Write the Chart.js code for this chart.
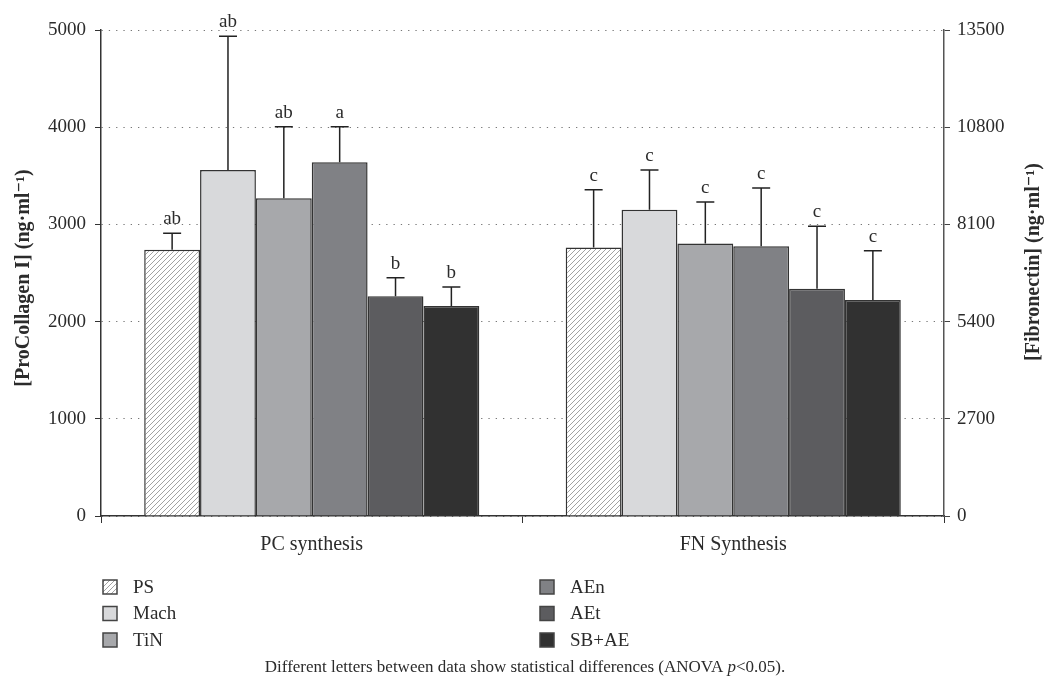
<!DOCTYPE html>
<html>
<head>
<meta charset="utf-8">
<script src="https://cdn.jsdelivr.net/npm/chart.js@4"></script>
<style>
  html, body { margin: 0; padding: 0; background: #fff; }
  #wrap { width: 1049px; height: 688px; position: relative; }
</style>
</head>
<body>
<div id="wrap"><canvas id="barChart" width="1049" height="688"></canvas></div>
<script>
// 数据
const groups = ['PC synthesis', 'FN Synthesis'];
const series = ['PS', 'Mach', 'TiN', 'AEn', 'AEt', 'SB+AE'];
const pcMean = [2740, 3560, 3270, 3640, 2260, 2160];
const pcErr = [170, 1375, 735, 365, 190, 195];
const pcLetters = ['ab', 'ab', 'ab', 'a', 'b', 'b'];
const fnMean = [7460, 8510, 7570, 7490, 6310, 6000];
const fnErr = [1600, 1100, 1155, 1620, 1740, 1370];
const fnLetters = ['c', 'c', 'c', 'c', 'c', 'c'];
const leftTicks = [0, 1000, 2000, 3000, 4000, 5000];
const rightTicks = [0, 2700, 5400, 8100, 10800, 13500];

const FONT = '"Liberation Serif", "DejaVu Serif", serif';
const INK = '#2b2b2b';

// 斜线填充 (PS)
function hatchPattern() {
    const c = document.createElement('canvas');
    c.width = 5; c.height = 5;
    const g = c.getContext('2d');
    g.fillStyle = '#fff';
    g.fillRect(0, 0, 5, 5);
    g.strokeStyle = '#8a8a8a';
    g.lineWidth = 0.8;
    g.beginPath();
    g.moveTo(-1, 6); g.lineTo(6, -1);
    g.moveTo(-1, 1); g.lineTo(1, -1);
    g.moveTo(4, 6); g.lineTo(6, 4);
    g.stroke();
    return g.createPattern(c, 'repeat');
}

const ctx = document.getElementById('barChart').getContext('2d');
const hatch = hatchPattern();
const fills = [hatch, '#d8d9db', '#a7a8ab', '#808185', '#5c5c5f', '#313131'];

// 两组分别用左右两个y轴
const datasets = [];
series.forEach((name, i) => {
    datasets.push({
        label: name, yAxisID: 'y', data: [pcMean[i], null],
        err: [pcErr[i], null], letters: [pcLetters[i], null],
        backgroundColor: fills[i], borderColor: '#333', borderWidth: 1.5,
        borderSkipped: 'bottom', skipNull: true,
        categoryPercentage: 0.795, barPercentage: 1.0
    });
});
series.forEach((name, i) => {
    datasets.push({
        label: name, yAxisID: 'y2', data: [null, fnMean[i]],
        err: [null, fnErr[i]], letters: [null, fnLetters[i]],
        backgroundColor: fills[i], borderColor: '#333', borderWidth: 1.5,
        borderSkipped: 'bottom', skipNull: true,
        categoryPercentage: 0.795, barPercentage: 1.0
    });
});

// 误差线和字母
const errorBars = {
    id: 'errorBars',
    afterDatasetsDraw(chart) {
        const c = chart.ctx;
        c.save();
        chart.data.datasets.forEach((ds, di) => {
            const meta = chart.getDatasetMeta(di);
            const scale = chart.scales[ds.yAxisID];
            meta.data.forEach((bar, j) => {
                if (ds.data[j] == null) return;
                const top = scale.getPixelForValue(ds.data[j] + ds.err[j]);
                c.strokeStyle = '#222';
                c.lineWidth = 1.5;
                c.beginPath();
                c.moveTo(bar.x, bar.y);
                c.lineTo(bar.x, top);
                c.moveTo(bar.x - 9, top);
                c.lineTo(bar.x + 9, top);
                c.stroke();
                c.fillStyle = INK;
                c.font = '19px ' + FONT;
                c.textAlign = 'center';
                c.textBaseline = 'alphabetic';
                c.fillText(ds.letters[j], bar.x, top - 9);
            });
        });
        c.restore();
    },
    afterDraw(chart) {
        const c = chart.ctx;
        c.save();
        c.fillStyle = INK;
        c.font = 'bold 20px ' + FONT;
        c.textAlign = 'center';
        c.textBaseline = 'middle';
        c.translate(24, 278);
        c.rotate(-Math.PI / 2);
        c.fillText('[ProCollagen I] (ng·ml⁻¹)', 0, 0);
        c.restore();
        c.save();
        c.fillStyle = INK;
        c.font = 'bold 20px ' + FONT;
        c.textAlign = 'center';
        c.textBaseline = 'middle';
        c.translate(1034, 262);
        c.rotate(-Math.PI / 2);
        c.fillText('[Fibronectin] (ng·ml⁻¹)', 0, 0);
        c.restore();

        // 图例 (两列)
        c.save();
        c.font = '19px ' + FONT;
        c.textBaseline = 'middle';
        series.forEach((name, i) => {
            const col = Math.floor(i / 3), row = i % 3;
            const x = col === 0 ? 103 : 540;
            const y = 587 + row * 26.5;
            c.fillStyle = fills[i];
            c.fillRect(x, y - 7, 14, 14);
            c.strokeStyle = '#444';
            c.lineWidth = 1.5;
            c.strokeRect(x, y - 7, 14, 14);
            c.fillStyle = INK;
            c.fillText(name, x + 30, y + 1);
        });
        c.restore();

        // 说明文字
        c.save();
        c.fillStyle = INK;
        c.textBaseline = 'middle';
        const fs = '17px ' + FONT;
        const a = 'Different letters between data show statistical differences (ANOVA ';
        const b = 'p';
        const d = '<0.05).';
        c.font = fs;
        const wa = c.measureText(a).width;
        c.font = 'italic ' + fs;
        const wb = c.measureText(b).width;
        c.font = fs;
        const wd = c.measureText(d).width;
        let x0 = 525 - (wa + wb + wd) / 2;
        c.fillText(a, x0, 668);
        c.font = 'italic ' + fs;
        c.fillText(b, x0 + wa, 668);
        c.font = fs;
        c.fillText(d, x0 + wa + wb, 668);
        c.restore();
    }
};

const barChart = new Chart(ctx, {
    type: 'bar',
    data: { labels: groups, datasets: datasets },
    options: {
        responsive: false,
        animation: false,
        layout: { padding: { top: 30, bottom: 127, left: 0, right: 0 } },
        plugins: { legend: { display: false }, tooltip: { enabled: false } },
        scales: {
            x: {
                grid: { display: true, drawOnChartArea: false, drawTicks: true, tickLength: 7, tickColor: '#333', offset: true },
                border: { color: '#333', width: 1.5 },
                ticks: { color: INK, font: { family: FONT, size: 20 }, padding: 10 },
                afterFit(s) { s.height = 45; }
            },
            y: {
                position: 'left',
                min: 0, max: 5000,
                afterBuildTicks(s) { s.ticks = leftTicks.map(v => ({ value: v })); },
                grid: { color: '#777', lineWidth: 1, drawTicks: true, tickLength: 6, tickColor: '#333', tickBorderDash: [] },
                border: { color: '#333', width: 1.5, dash: [1.3, 6] },
                ticks: { color: INK, font: { family: FONT, size: 19 }, padding: 9, callback: v => String(v) },
                afterFit(s) { s.width = 101; }
            },
            y2: {
                position: 'right',
                min: 0, max: 13500,
                afterBuildTicks(s) { s.ticks = rightTicks.map(v => ({ value: v })); },
                grid: { drawOnChartArea: false, drawTicks: true, tickLength: 6, tickColor: '#444' },
                border: { color: '#555', width: 1.5 },
                ticks: { color: INK, font: { family: FONT, size: 19 }, padding: 7, callback: v => String(v) },
                afterFit(s) { s.width = 105; }
            }
        }
    },
    plugins: [errorBars]
});
</script>
</body>
</html>
